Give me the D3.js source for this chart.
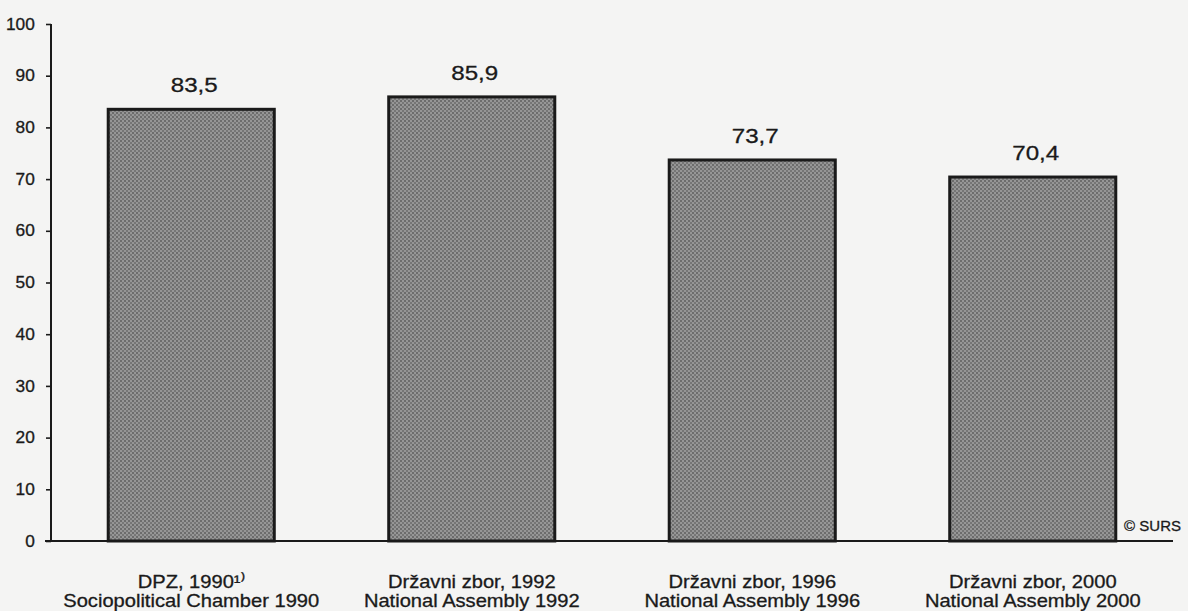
<!DOCTYPE html>
<html><head><meta charset="utf-8">
<script src="https://cdn.jsdelivr.net/npm/d3@7"></script>
<style>
html,body{margin:0;padding:0;background:#f4f4f3;}
svg{display:block;}
text{font-family:"Liberation Sans",Arial,Helvetica,sans-serif;fill:#1a1a1a;stroke:#1a1a1a;stroke-width:0.3px;}
</style></head>
<body>
<svg id="chart" width="1188" height="611"></svg>
<script>
const categoriesLine1 = ["DPZ, 1990¹⁾", "Državni zbor, 1992", "Državni zbor, 1996", "Državni zbor, 2000"];
const categoriesLine2 = ["Sociopolitical Chamber 1990", "National Assembly 1992", "National Assembly 1996", "National Assembly 2000"];
const values = [83.5, 85.9, 73.7, 70.4];
const valueLabels = ["83,5", "85,9", "73,7", "70,4"];
const yTicks = [0, 10, 20, 30, 40, 50, 60, 70, 80, 90, 100];

(function () {
const svg = d3.select("#chart");
const W = 1188, H = 611;
svg.append("rect").attr("width", W).attr("height", H).attr("fill", "#f4f4f3");

const defs = svg.append("defs");
const pat = defs.append("pattern").attr("id", "dots").attr("width", 4).attr("height", 4).attr("patternUnits", "userSpaceOnUse");
pat.append("rect").attr("width", 4).attr("height", 4).attr("fill", "#969696");
pat.append("rect").attr("x", 0).attr("y", 0).attr("width", 2).attr("height", 2).attr("fill", "#6c6c6c");
pat.append("rect").attr("x", 2).attr("y", 2).attr("width", 2).attr("height", 2).attr("fill", "#767676");

const mLeft = 51, mRight = 1173, mTop = 24, mBottom = 541;
const x = d3.scaleBand().domain(d3.range(values.length)).range([mLeft, mRight]).paddingInner(0.408).paddingOuter(0.204);
const y = d3.scaleLinear().domain([0, 100]).range([mBottom, mTop]);

svg.append("g").selectAll("rect").data(values).join("rect")
  .attr("x", (d, i) => x(i))
  .attr("y", d => y(d))
  .attr("width", x.bandwidth())
  .attr("height", d => y(0) - y(d))
  .attr("fill", "url(#dots)")
  .attr("stroke", "#1a1a1a")
  .attr("stroke-width", 3);

svg.append("g").selectAll("text").data(values).join("text")
  .attr("transform", (d, i) => `translate(${x(i) + x.bandwidth() / 2 + 3},${y(d) - 17}) scale(1.15,1)`)
  .attr("text-anchor", "middle")
  .attr("font-size", 21)
  .text((d, i) => valueLabels[i]);

const yAxis = d3.axisLeft(y).tickValues(yTicks).tickSize(5).tickPadding(10).tickFormat(d3.format("d"));
const ga = svg.append("g").attr("transform", `translate(${mLeft},0)`).call(yAxis);
ga.attr("font-size", 16).attr("font-family", null);
ga.select(".domain").attr("stroke", "#1a1a1a").attr("stroke-width", 2).attr("d", `M0,${mTop}V${mBottom}`);
ga.selectAll(".tick line").attr("stroke", "#1a1a1a").attr("stroke-width", 1.6);
ga.selectAll(".tick text").attr("font-size", 16).attr("fill", "#1a1a1a")
  .attr("transform", "scale(1.08,1)");

const xAxis = d3.axisBottom(x).tickSize(0).tickFormat("");
const gx = svg.append("g").attr("transform", `translate(0,${mBottom})`).call(xAxis);
gx.select(".domain").attr("stroke", "#1a1a1a").attr("stroke-width", 2).attr("d", `M${mLeft - 6},0H${mRight}`);

const cl = svg.append("g").selectAll("g").data(values).join("g")
  .attr("transform", (d, i) => `translate(${x(i) + x.bandwidth() / 2},0) scale(1.15,1)`);
cl.append("text").attr("y", 588).attr("text-anchor", "middle").attr("font-size", 17.5)
  .attr("stroke-width", 0.2)
  .text((d, i) => categoriesLine1[i]);
cl.append("text").attr("y", 607).attr("text-anchor", "middle").attr("font-size", 17.5)
  .attr("stroke-width", 0.2)
  .text((d, i) => categoriesLine2[i]);

svg.append("text").attr("x", 1181).attr("y", 531).attr("text-anchor", "end")
  .attr("font-size", 15).text("© SURS");
})();
</script>
</body></html>
